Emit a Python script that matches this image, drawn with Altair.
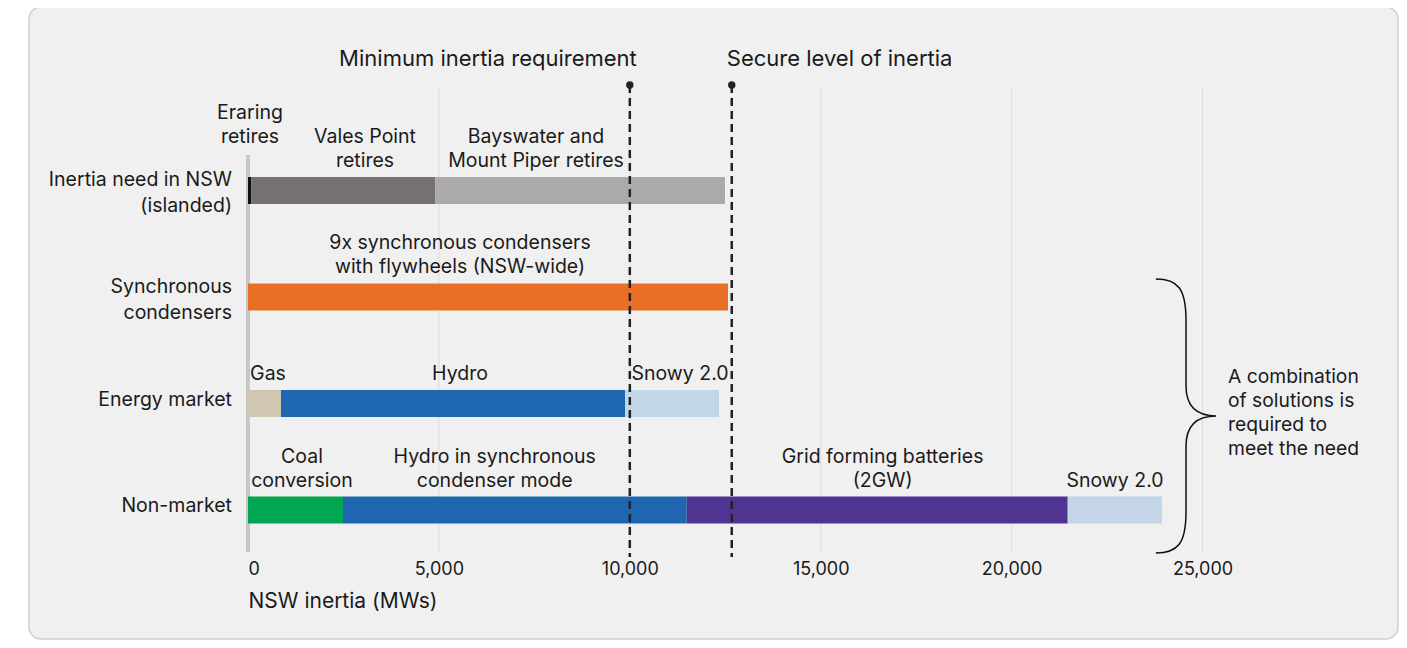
import altair as alt
import pandas as pd

FONT = "Inter"
TXT = "#1a1a1a"

# Rows (categories)
row_keys = ["need", "sync", "market", "nonmarket"]
row_labels = ["Inertia need in NSW\n(islanded)", "Synchronous\ncondensers", "Energy market", "Non-market"]

# Bar segments (MWs)
seg_row = ["need", "need", "need", "sync", "market", "market", "market",
           "nonmarket", "nonmarket", "nonmarket", "nonmarket"]
seg_name = ["Eraring", "Vales Point", "Bayswater and Mount Piper", "Synchronous condensers",
            "Gas", "Hydro", "Snowy 2.0 (market)", "Coal conversion",
            "Hydro sync mode", "Grid forming batteries", "Snowy 2.0 (non-market)"]
seg_start = [0, 90, 4900, 0, 0, 864, 9874, 0, 2488, 11490, 21469]
seg_end = [90, 4900, 12493, 12572, 864, 9874, 12336, 2488, 11490, 21469, 23939]
seg_color = ["#111111", "#767170", "#abaaa9", "#e96f25", "#cfc7b0", "#1f66b1",
             "#c2d6e8", "#00a651", "#1f66b1", "#4f3591", "#c2d6e8"]

# Segment labels
lbl_row = ["need", "need", "need", "sync", "market", "market", "market",
           "nonmarket", "nonmarket", "nonmarket", "nonmarket"]
lbl_text = ["Eraring\nretires\n", "Vales Point\nretires", "Bayswater and\nMount Piper retires",
            "9x synchronous condensers\nwith flywheels (NSW-wide)",
            "Gas", "Hydro", "Snowy 2.0",
            "Coal\nconversion", "Hydro in synchronous\ncondenser mode",
            "Grid forming batteries\n(2GW)", "Snowy 2.0"]
lbl_x = [52, 3064, 7543, 5553, 524, 5553, 11315, 1414, 6460, 16620, 22708]

# Reference levels
ref_x = [10000, 12670]
ref_name = ["Minimum inertia requirement", "Secure level of inertia"]

# Axis ticks
tick_values = [0, 5000, 10000, 15000, 20000, 25000]
grid_values = [5000, 10000, 15000, 20000, 25000]

note_text = "A combination\nof solutions is\nrequired to\nmeet the need"

segs = pd.DataFrame({"row": seg_row, "name": seg_name, "start": seg_start, "end": seg_end})
lbls = pd.DataFrame({"row": lbl_row, "text": lbl_text, "x": lbl_x})
lbls["n"] = lbls["text"].str.count("\n") + 1
rows = pd.DataFrame({"row": row_keys, "label": row_labels})
rows["n"] = rows["label"].str.count("\n") + 1
refs = pd.DataFrame({"x": ref_x, "name": ref_name})
grid = pd.DataFrame({"x": grid_values})
one = pd.DataFrame({"a": [0]})

W, H = 1050, 464
xscale = alt.Scale(domain=[0, 27500], nice=False, zero=False)
yscale = alt.Scale(domain=row_keys, range=[89, 435.5], paddingInner=0.7465, paddingOuter=0)

panel = alt.Chart(one).mark_rect(
    cornerRadius=12, fill="#f0f0f0", stroke="#cfcfcf", strokeWidth=1.5
).encode(x=alt.value(-219), x2=alt.value(1150), y=alt.value(-81), y2=alt.value(551))

gridlines = alt.Chart(grid).mark_rule(color="#dcdcdc", strokeWidth=1).encode(
    x=alt.X("x:Q", scale=xscale), y=alt.value(0), y2=alt.value(H)
)

yline = alt.Chart(one).mark_rule(color="#c8c8c8", strokeWidth=4).encode(
    x=alt.datum(0, scale=xscale), y=alt.value(67), y2=alt.value(H)
)

bars = alt.Chart(segs).mark_bar(cornerRadius=0).encode(
    x=alt.X("start:Q", scale=xscale,
            axis=alt.Axis(values=tick_values, format=",.0f", grid=False, domain=False, ticks=False,
                          labelFontSize=18, labelColor=TXT, labelFont=FONT, labelPadding=8,
                          title="NSW inertia (MWs)", titleFont=FONT, titleFontSize=21,
                          titleFontWeight="normal", titleColor=TXT, titleAnchor="start",
                          titleAlign="left", titlePadding=12, zindex=1)),
    x2="end:Q",
    y=alt.Y("row:N", scale=yscale, axis=None),
    color=alt.Color("name:N", scale=alt.Scale(domain=seg_name, range=seg_color), legend=None),
)


def seg_label_layer(n):
    return alt.Chart(lbls).transform_filter(alt.datum.n == n).mark_text(
        font=FONT, fontSize=19.5, color=TXT, align="center", baseline="middle",
        lineBreak="\n", lineHeight=24, dy=-29.5 - (n - 1) * 24
    ).encode(x=alt.X("x:Q", scale=xscale), y=alt.Y("row:N", scale=yscale), text="text:N")


def cat_label_layer(n, dy):
    return alt.Chart(rows).transform_filter(alt.datum.n == n).mark_text(
        font=FONT, fontSize=19.5, color=TXT, align="right", baseline="middle",
        lineBreak="\n", lineHeight=26, dy=dy
    ).encode(x=alt.value(-16), y=alt.Y("row:N", scale=yscale), text="label:N")


ref_rules = alt.Chart(refs).mark_rule(color="#222222", strokeWidth=2.5, strokeDash=[8, 5]).encode(
    x=alt.X("x:Q", scale=xscale), y=alt.value(-3), y2=alt.value(469)
)
ref_dots = alt.Chart(refs).mark_point(filled=True, size=55, color="#222222", opacity=1).encode(
    x=alt.X("x:Q", scale=xscale), y=alt.value(-3)
)
ref_title_1 = alt.Chart(refs.iloc[[0]]).mark_text(
    font=FONT, fontSize=22, color=TXT, align="right", baseline="middle", dx=7
).encode(x=alt.X("x:Q", scale=xscale), y=alt.value(-29), text="name:N")
ref_title_2 = alt.Chart(refs.iloc[[1]]).mark_text(
    font=FONT, fontSize=22, color=TXT, align="left", baseline="middle", dx=-5
).encode(x=alt.X("x:Q", scale=xscale), y=alt.value(-29), text="name:N")

BRACE = ("M -0.22 -1 C -0.06 -1 0 -0.93 0 -0.7 L 0 -0.22 C 0 -0.07 0.08 0 0.22 0 "
         "C 0.08 0 0 0.07 0 0.22 L 0 0.7 C 0 0.93 -0.06 1 -0.22 1")
brace = alt.Chart(one).mark_point(
    shape=BRACE, filled=False, size=75076, stroke="#111111", strokeWidth=1.5, opacity=1
).encode(x=alt.value(938), y=alt.value(328))

note = alt.Chart(one).mark_text(
    font=FONT, fontSize=19.3, color=TXT, align="left", baseline="middle",
    lineBreak="\n", lineHeight=24
).encode(x=alt.value(980), y=alt.value(289), text=alt.value(note_text))

chart = alt.layer(
    panel, gridlines, yline, bars, ref_rules, ref_dots,
    seg_label_layer(1), seg_label_layer(2), seg_label_layer(3),
    cat_label_layer(1, -4), cat_label_layer(2, -10),
    ref_title_1, ref_title_2, brace, note
).properties(
    width=W, height=H,
    autosize=alt.AutoSizeParams(type="none"),
    padding={"left": 240, "top": 80, "right": 101, "bottom": 88},
    background="#ffffff",
).configure_view(stroke=None)

chart.save("out.html", embed_options={"renderer": "svg", "actions": False})
